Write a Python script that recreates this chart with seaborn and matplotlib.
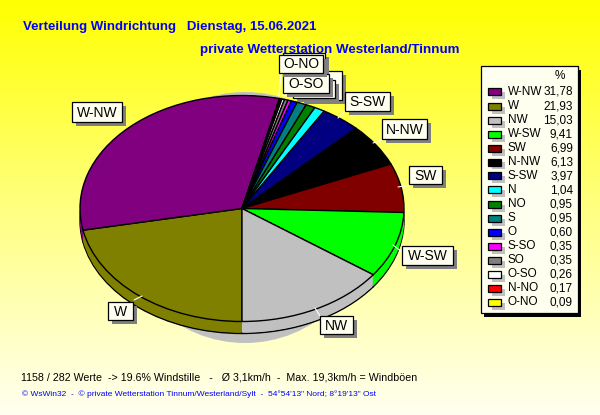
import numpy as np
import matplotlib
matplotlib.use('Agg')
import matplotlib.pyplot as plt
from matplotlib.colors import LinearSegmentedColormap
from matplotlib.patches import Rectangle, Ellipse
import seaborn as sns

# legend order
names = ['W-NW', 'W', 'NW', 'W-SW', 'SW', 'N-NW', 'S-SW', 'N', 'NO', 'S', 'O', 'S-SO', 'SO', 'O-SO', 'N-NO', 'O-NO']
shares = [31.78, 21.93, 15.03, 9.41, 6.99, 6.13, 3.97, 1.04, 0.95, 0.95, 0.60, 0.35, 0.35, 0.26, 0.17, 0.09]
share_text = ['31,78', '21,93', '15,03', '9,41', '6,99', '6,13', '3,97', '1,04', '0,95', '0,95', '0,60', '0,35', '0,35', '0,26', '0,17', '0,09']
colors = ['#800080', '#808000', '#C0C0C0', '#00FF00', '#800000', '#000000', '#000080', '#00FFFF',
          '#008000', '#008080', '#0000FF', '#FF00FF', '#808080', '#FFFFFF', '#FF0000', '#FFFF00']
# pie order, clockwise from the bottom
pie_order = ['W', 'W-NW', 'O-NO', 'N-NO', 'O-SO', 'SO', 'S-SO', 'O', 'S', 'NO', 'N', 'S-SW', 'N-NW', 'SW', 'W-SW', 'NW']
# label boxes: left, top, right, bottom in pixels
label_names = ['O-SO', 'O-NO', 'S-SW', 'N-NW', 'SW', 'W-SW', 'NW', 'W', 'W-NW']
label_boxes = [(283, 74, 329, 93), (279, 55, 323, 73), (345, 92, 390, 111), (382, 119, 427, 139),
               (409, 166, 442, 184), (402, 246, 453, 265), (320, 316, 353, 334), (108, 302, 133, 320), (72, 102, 122, 122)]
# boxes hidden behind the O-NO / O-SO stack
hidden_boxes = [(300, 71, 342, 100), (293, 80, 335, 98), (283, 53, 325, 72)]
leaders = [((338, 118), (345, 111)), ((373, 143), (382, 140)), ((398, 187), (410, 185)), ((393, 245), (402, 252)),
           ((315, 308), (320, 316)), ((134, 300), (142, 296)), ((126, 124), (122, 120)),
           ((279, 96), (281, 74)), ((282, 96), (285, 92)), ((284, 96), (290, 92)), ((287, 97), (295, 92))]

sns.set_theme(style='white')
plt.rcParams['font.family'] = ['Liberation Sans', 'DejaVu Sans']

lookup = dict(zip(names, zip(shares, colors)))
pie_values = [lookup[n][0] for n in pie_order]
pie_colors = sns.color_palette([lookup[n][1] for n in pie_order])

fig = plt.figure(figsize=(6, 4.15), dpi=100)
bg = fig.add_axes([0, 0, 1, 1])
bg.set_xlim(0, 600)
bg.set_ylim(415, 0)
bg.axis('off')
grad = LinearSegmentedColormap.from_list('bg', ['#FFFF00', '#FFFF80', '#FFFFF0'])
bg.imshow(np.linspace(0, 1, 415).reshape(-1, 1), cmap=grad, extent=(0, 600, 415, 0), aspect='auto', zorder=0)

# shadow of the pie
bg.add_patch(Ellipse((245, 217.5), 252, 251, color='#C0C0C0', lw=0, zorder=1))

cx, cy, rx, ry, depth = 242, 208.5, 162, 113, 12
pie_ax = fig.add_axes([0, 0, 1, 1])
pie_ax.patch.set_alpha(0)


def draw_pie(offset, edge):
    pie_ax.pie(pie_values, colors=pie_colors, startangle=270, counterclock=False, center=(0, -offset / ry),
               wedgeprops={'edgecolor': 'black' if edge else 'none', 'linewidth': 1.0 if edge else 0})


draw_pie(depth, True)
for off in range(depth - 1, 0, -1):
    draw_pie(off, False)
draw_pie(0, True)
pie_ax.set_aspect('auto')
pie_ax.set_xlim(-cx / rx, (600 - cx) / rx)
pie_ax.set_ylim((cy - 415) / ry, cy / ry)

top = fig.add_axes([0, 0, 1, 1])
top.set_xlim(0, 600)
top.set_ylim(415, 0)
top.axis('off')
top.patch.set_alpha(0)


def box(x0, y0, x1, y1, z):
    top.add_patch(Rectangle((x0 + 4, y0 + 4), x1 - x0, y1 - y0, color='#808080', lw=0, zorder=z))
    top.add_patch(Rectangle((x0, y0), x1 - x0, y1 - y0, facecolor='#FFFFF0', edgecolor='black', lw=0.9, zorder=z + 0.1))


for (p0, p1) in leaders:
    top.plot([p0[0], p1[0]], [p0[1], p1[1]], color='white', lw=0.8, zorder=2)

for i, b in enumerate(hidden_boxes):
    box(*b, 3 + i)

for i, (name, b) in enumerate(zip(label_names, label_boxes)):
    box(*b, 7 + i)
    top.text((b[0] + b[2]) / 2, (b[1] + b[3]) / 2 + 0.5, name, ha='center', va='center', fontsize=10,
             color='black', zorder=7.5 + i)

# legend
top.add_patch(Rectangle((484, 70), 97, 247, color='black', lw=0, zorder=2))
top.add_patch(Rectangle((481, 66), 97, 247, facecolor='#FFFFF0', edgecolor='black', lw=0.9, zorder=3))
top.text(560, 76, '%', ha='center', va='center', fontsize=8.5, color='black', zorder=4)
for i, (name, txt, col) in enumerate(zip(names, share_text, colors)):
    y = 92 + i * 14
    top.add_patch(Rectangle((492, y + 0.5), 13, 7, color='#C0C0C0', lw=0, zorder=4))
    top.add_patch(Rectangle((488, y - 3.5), 13, 7, facecolor=col, edgecolor='black', lw=0.9, zorder=5))
    top.text(508, y, name, ha='left', va='center', fontsize=8.5, color='black', zorder=5)
    top.text(573, y, txt, ha='right', va='center', fontsize=8.5, color='black', zorder=5)

# texts
top.text(23, 27, 'Verteilung Windrichtung   Dienstag, 15.06.2021', ha='left', va='center',
         fontsize=9.5, fontweight='bold', color='#0000FF')
top.text(200, 50.5, 'private Wetterstation Westerland/Tinnum', ha='left', va='center',
         fontsize=9.6, fontweight='bold', color='#0000FF', zorder=1)
top.text(21, 377, '1158 / 282 Werte  -> 19.6% Windstille   -   Ø 3,1km/h  -  Max. 19,3km/h = Windböen',
         ha='left', va='center', fontsize=7.65, color='black')
top.text(22, 394, '© WsWin32  -  © private Wetterstation Tinnum/Westerland/Sylt  -  54°54\'13" Nord; 8°19\'13" Ost',
         ha='left', va='center', fontsize=6.0, color='#0000FF')

fig.savefig('out.png', dpi=100)
